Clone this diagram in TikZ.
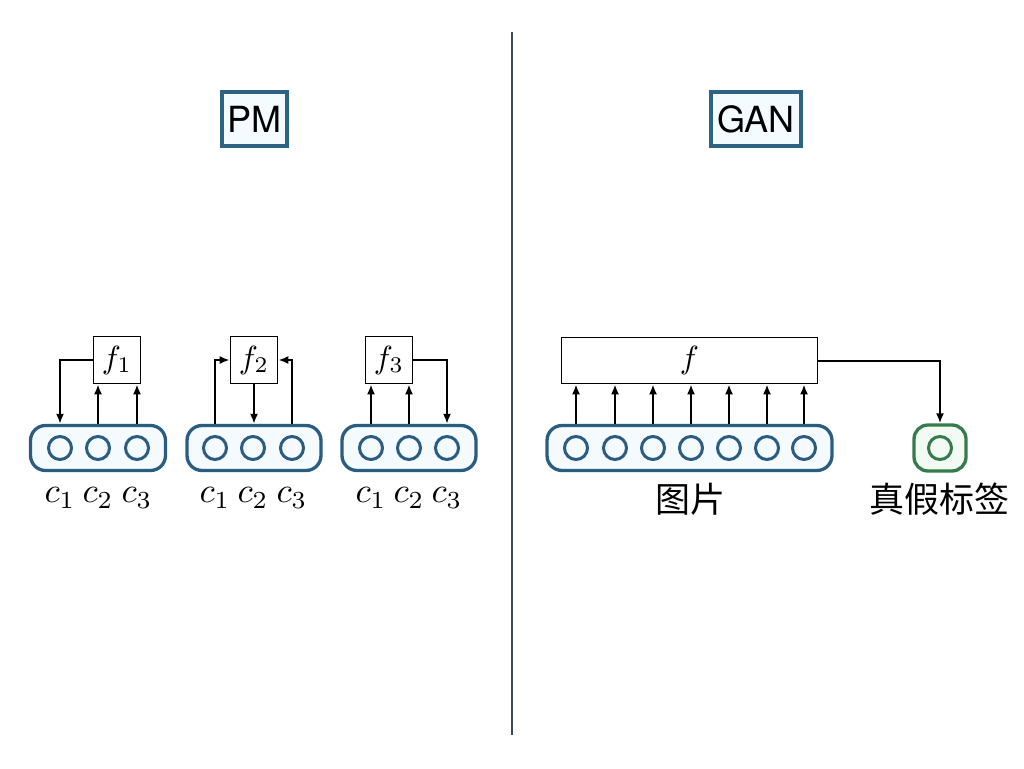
\documentclass[tikz,border=0pt]{standalone}
\usepackage{graphicx}
\usepackage{fontspec}
\newfontfamily\headfont{TeX Gyre Heros}
\newfontfamily\cjk{Noto Sans CJK SC}
\usetikzlibrary{arrows.meta}
\definecolor{capblue}{HTML}{2B5C82}
\definecolor{capfill}{HTML}{F4FAFD}
\definecolor{grn}{HTML}{367B4D}
\definecolor{grnfill}{HTML}{F2FAF3}
\definecolor{titleblue}{HTML}{2D6484}
\definecolor{titlefill}{HTML}{F4FBFF}
\definecolor{divider}{HTML}{3D4B57}
\newcommand{\bigmath}[1]{\scalebox{3.2}{$#1$}}
\newcommand{\labmath}[1]{\scalebox{3.5}{$#1$}}
\tikzset{
  capsule/.style={draw=capblue, line width=3.3pt, rounded corners=15pt, fill=capfill, minimum height=45pt, inner sep=0pt},
  unit/.style={circle, draw=capblue, line width=3pt, minimum size=23pt, inner sep=0pt, fill=capfill},
  fbox/.style={draw, line width=1.7pt, fill=white, inner sep=0pt},
  arr/.style={-{Latex[length=10pt,width=8pt]}, line width=2pt},
  title/.style={draw=titleblue, line width=3.2pt, fill=titlefill, inner sep=0pt, minimum height=54pt, font=\headfont\fontsize{36}{40}\selectfont},
  lbl/.style={inner sep=0pt},
  cjklbl/.style={font=\cjk\fontsize{35}{38}\selectfont, inner sep=0pt}
}
\begin{document}
\begin{tikzpicture}[x=1pt,y=-1pt]
\useasboundingbox (0,0) rectangle (1024,768);
% divider
\draw[divider, line width=2pt] (512,32) -- (512,735);
% titles
\node[title, minimum width=65pt] (pm) at (254.5,119) {PM};
\node[title, minimum width=90pt] (gan) at (756,119) {GAN};
% ---- PM group 1
\node[capsule, minimum width=135pt] (cap1) at (98,448) {};
\node[unit] (c11) at (60,448) {};
\node[unit] (c12) at (98,448) {};
\node[unit] (c13) at (137,448) {};
\node[fbox, minimum size=47pt] (f1) at (117,360) {\bigmath{f_1}};
\draw[arr] (f1.west) -| (cap1.north -| c11);
\draw[arr] (cap1.north -| c12) -- (f1.south -| c12);
\draw[arr] (cap1.north -| c13) -- (f1.south -| c13);
\node[lbl] (l11) at (60,498) {\labmath{c_1}};
\node[lbl] (l12) at (98,498) {\labmath{c_2}};
\node[lbl] (l13) at (137,498) {\labmath{c_3}};
% ---- PM group 2
\node[capsule, minimum width=134pt] (cap2) at (254,448) {};
\node[unit] (c21) at (215,448) {};
\node[unit] (c22) at (253,448) {};
\node[unit] (c23) at (292,448) {};
\node[fbox, minimum size=47pt] (f2) at (254,360) {\bigmath{f_2}};
\draw[arr] (cap2.north -| c21) |- (f2.west);
\draw[arr] (cap2.north -| c23) |- (f2.east);
\draw[arr] (f2.south) -- (cap2.north -| f2.south);
\node[lbl] (l21) at (215,498) {\labmath{c_1}};
\node[lbl] (l22) at (253,498) {\labmath{c_2}};
\node[lbl] (l23) at (292,498) {\labmath{c_3}};
% ---- PM group 3
\node[capsule, minimum width=134pt] (cap3) at (409,448) {};
\node[unit] (c31) at (371,448) {};
\node[unit] (c32) at (409,448) {};
\node[unit] (c33) at (447,448) {};
\node[fbox, minimum size=47pt] (f3) at (389,360) {\bigmath{f_3}};
\draw[arr] (cap3.north -| c31) -- (f3.south -| c31);
\draw[arr] (cap3.north -| c32) -- (f3.south -| c32);
\draw[arr] (f3.east) -| (cap3.north -| c33);
\node[lbl] (l31) at (371,498) {\labmath{c_1}};
\node[lbl] (l32) at (409,498) {\labmath{c_2}};
\node[lbl] (l33) at (447,498) {\labmath{c_3}};
% ---- GAN
\node[fbox, minimum width=256pt, minimum height=46pt] (fg) at (689.5,360.5) {\bigmath{f}};
\node[capsule, minimum width=285pt] (capg) at (689.5,448) {};
\foreach \i/\x in {1/576,2/615,3/653,4/691,5/729,6/767,7/804} {
  \node[unit] (g\i) at (\x,448) {};
  \draw[arr] (capg.north -| g\i) -- (fg.south -| g\i);
}
\node[capsule, draw=grn, fill=grnfill, minimum width=52pt, minimum height=46pt, rounded corners=14pt] (real) at (940,448) {};
\node[unit, draw=grn, fill=grnfill] (ro) at (940,448) {};
\draw[arr] (fg.east) -| (real.north);
\node[cjklbl] (pic) at (690,499) {图片};
\node[cjklbl] (lab) at (939,499) {真假标签};
\end{tikzpicture}
\end{document}
